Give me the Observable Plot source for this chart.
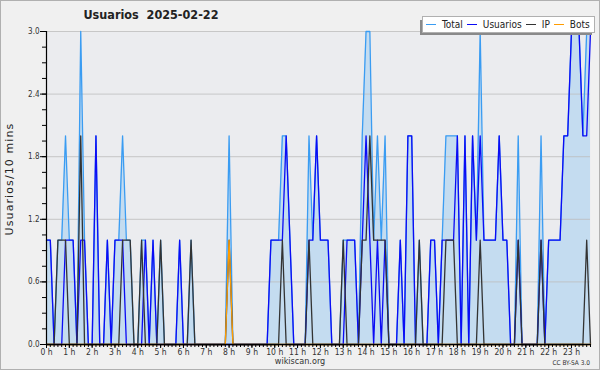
<!DOCTYPE html>
<html>
<head>
<meta charset="utf-8">
<script src="https://cdn.jsdelivr.net/npm/d3@7"></script>
<script src="https://cdn.jsdelivr.net/npm/@observablehq/plot@0.6"></script>
<style>
  body { margin: 0; background: #fff; }
  #wrap { position: relative; width: 600px; height: 370px; background: #f0f0f0; overflow: hidden;
          font-family: "DejaVu Sans Condensed", "DejaVu Sans", sans-serif; font-stretch: condensed; color: #222; }
  #wrap svg { position: absolute; left: 0; top: 0; }
  #border { position: absolute; left: 0; top: 0; width: 598px; height: 368px; border: 1px solid #b0b0b0; pointer-events: none; }
  #title { position: absolute; left: 0; width: 302px; top: 7px; text-align: center; font-weight: bold; font-size: 12.5px; white-space: pre; }
  #legshadow { position: absolute; left: 420px; top: 20px; width: 172px; height: 15px; background: #8a8a8a; }
  #legend { position: absolute; left: 422px; top: 16px; width: 171px; height: 15px; background: #fff; border: 1px solid #b0b0b0;
            display: flex; align-items: center; font-size: 10px; white-space: nowrap; }
  #legend span.sw { display: inline-block; width: 10px; height: 0; border-top: 1.3px solid; margin: 0 6px 0 4px; }
  #legend span.sw:first-child { margin-left: 3px; }
  #ytitle { position: absolute; left: 9px; top: 179px; transform: translate(-50%, -50%) rotate(-90deg); font-size: 11px;
            letter-spacing: 1.1px; white-space: nowrap; font-family: "DejaVu Sans", sans-serif; font-stretch: normal; }
  #src { position: absolute; left: 0; width: 600px; top: 356px; text-align: center; font-size: 9px; color: #333; }
  #lic { position: absolute; right: 10px; top: 359px; font-size: 6.5px; color: #333; }
</style>
</head>
<body>
<div id="wrap">
  <div id="chart"></div>
  <div id="title">Usuarios  2025-02-22</div>
  <div id="legshadow"></div>
  <div id="legend"></div>
  <div id="ytitle">Usuarios/10 mins</div>
  <div id="src">wikiscan.org</div>
  <div id="lic">CC BY-SA 3.0</div>
  <div id="border"></div>
</div>
<script>
// 10-minute slots, 144 per day (0 h .. 23 h 50)
const slotsPerHour = 6;
const hourLabels = ["0 h","1 h","2 h","3 h","4 h","5 h","6 h","7 h","8 h","9 h","10 h","11 h",
                    "12 h","13 h","14 h","15 h","16 h","17 h","18 h","19 h","20 h","21 h","22 h","23 h"];
const yTicks = [0, 0.6, 1.2, 1.8, 2.4, 3.0];

const seriesNames = ["Total", "Usuarios", "IP", "Bots"];
const seriesColors = ["#3a9cf2", "#0b0bf5", "#333333", "#ff9c00"];

const total = [
  1,1,0,1,1,2, 1,1,0,3,1,0,
  0,2,0,0,1,0, 1,1,2,1,1,0,
  0,1,1,0,1,0, 1,0,0,0,0,1,
  0,0,1,0,0,0, 0,0,0,0,0,0,
  2,0,0,0,0,0, 0,0,0,0,0,1,
  1,1,2,2,1,0, 0,0,0,2,1,2,
  1,1,1,0,0,0, 1,1,1,1,0,2,
  3,3,1,2,1,2, 0,0,0,1,0,2,
  2,0,1,0,0,1, 1,0,1,2,2,2,
  2,0,2,0,2,1, 3,1,1,1,1,2,
  1,1,0,0,2,0, 0,0,0,0,2,0,
  1,1,1,1,2,2, 3,3,3,2,3,3
];
const usuarios = [
  1,1,0,0,0,1, 1,1,0,1,1,0,
  0,2,0,0,1,0, 1,1,1,0,0,0,
  0,0,1,0,1,0, 0,0,0,0,0,1,
  0,0,0,0,0,0, 0,0,0,0,0,0,
  0,0,0,0,0,0, 0,0,0,0,0,1,
  1,1,1,2,1,0, 0,0,0,1,1,2,
  1,1,1,0,0,0, 0,1,1,1,0,1,
  2,1,0,1,0,1, 0,0,0,1,0,2,
  2,0,0,0,0,1, 1,0,1,1,1,1,
  2,0,2,0,2,1, 2,1,1,1,1,2,
  1,1,0,0,1,0, 0,0,0,0,1,0,
  1,1,1,1,2,2, 3,3,3,2,2,3
];
const ip = [
  0,0,0,1,1,1, 0,0,0,2,0,0,
  0,0,0,0,0,0, 0,0,1,1,1,0,
  0,1,0,0,0,0, 1,0,0,0,0,0,
  0,0,1,0,0,0, 0,0,0,0,0,0,
  1,0,0,0,0,0, 0,0,0,0,0,0,
  0,0,1,0,0,0, 0,0,0,1,0,0,
  0,0,0,0,0,0, 1,0,0,0,0,1,
  1,2,1,1,1,1, 0,0,0,0,0,0,
  0,0,1,0,0,0, 0,0,0,1,1,1,
  0,0,0,0,0,0, 1,0,0,0,0,0,
  0,0,0,0,1,0, 0,0,0,0,1,0,
  0,0,0,0,0,0, 0,0,0,0,1,0
];
const bots = [
  0,0,0,0,0,0, 0,0,0,0,0,0,
  0,0,0,0,0,0, 0,0,0,0,0,0,
  0,0,0,0,0,0, 0,0,0,0,0,0,
  0,0,0,0,0,0, 0,0,0,0,0,0,
  1,0,0,0,0,0, 0,0,0,0,0,0,
  0,0,0,0,0,0, 0,0,0,0,0,0,
  0,0,0,0,0,0, 0,0,0,0,0,0,
  0,0,0,0,0,0, 0,0,0,0,0,0,
  0,0,0,0,0,0, 0,0,0,0,0,0,
  0,0,0,0,0,0, 0,0,0,0,0,0,
  0,0,0,0,0,0, 0,0,0,0,0,0,
  0,0,0,0,0,0, 0,0,0,0,0,0
];

const rows = total.map((v, i) => ({
  t: i / slotsPerHour, total: v, usuarios: usuarios[i], ip: ip[i], bots: bots[i]
}));
const hourTicks = hourLabels.map((_, h) => h);
const minorX = d3.range(rows.length).map(i => i / slotsPerHour);
const minorY = d3.range(0, 21).map(k => k * 0.15);

const chart = Plot.plot({
  width: 600, height: 370,
  marginLeft: 46, marginRight: 10, marginTop: 31, marginBottom: 26,
  style: { background: "transparent", fontFamily: "'DejaVu Sans Condensed','DejaVu Sans',sans-serif", fontSize: "8px", color: "#333", overflow: "visible" },
  x: { domain: [0, (rows.length - 1) / slotsPerHour], axis: null, label: null },
  y: { domain: [0, 3], axis: null, label: null },
  marks: [
    Plot.frame({ fill: "#ebecef", stroke: null }),
    Plot.areaY(rows, { x: "t", y: "total", fill: "#c4dcf0" }),
    Plot.ruleY(yTicks.slice(1), { stroke: "#bdbdbd", strokeWidth: 1, strokeOpacity: 0.8 }),
    Plot.lineY(rows, { x: "t", y: "total", stroke: seriesColors[0], strokeWidth: 1.3 }),
    Plot.lineY(rows, { x: "t", y: "usuarios", stroke: seriesColors[1], strokeWidth: 1.3 }),
    Plot.lineY(rows, { x: "t", y: "ip", stroke: seriesColors[2], strokeWidth: 1.3 }),
    Plot.lineY(rows, { x: "t", y: "bots", stroke: seriesColors[3], strokeWidth: 1.3 }),
    Plot.axisY(minorY, { anchor: "left", label: null, tickSize: 4, tickFormat: () => null, stroke: "#000" }),
    Plot.axisY(yTicks, { anchor: "left", label: null, tickSize: 6, tickPadding: 1, tickFormat: d => d.toFixed(1), stroke: "#000", fill: "#333" }),
    Plot.axisX(minorX, { anchor: "bottom", label: null, tickSize: 3, tickFormat: () => null, stroke: "#000" }),
    Plot.axisX(hourTicks, { anchor: "bottom", label: null, tickSize: 4, tickPadding: 0, fontSize: 8.5, tickFormat: (d) => hourLabels[d], stroke: "#000", fill: "#333" }),
    Plot.ruleY([0], { stroke: "#000", strokeWidth: 1.6 }),
    Plot.ruleX([0], { stroke: "#000", strokeWidth: 1.2 })
  ]
});
document.getElementById("chart").appendChild(chart);

const legend = d3.select("#legend");
seriesNames.forEach((name, k) => {
  legend.append("span").attr("class", "sw").style("border-color", seriesColors[k]);
  legend.append("span").text(name);
});
</script>
</body>
</html>
